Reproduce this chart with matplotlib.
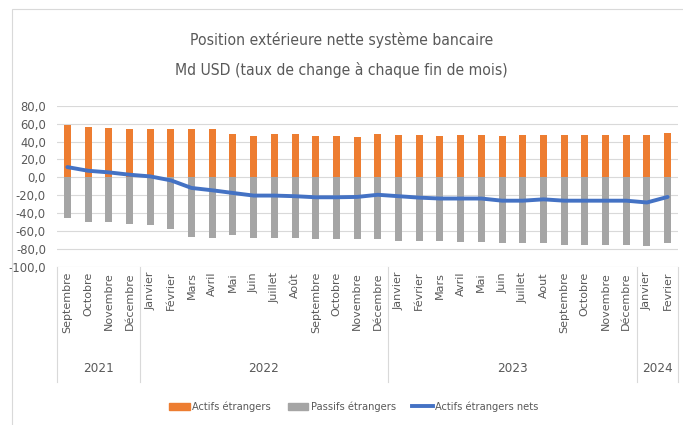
import matplotlib.pyplot as plt
import matplotlib.lines as mlines
import matplotlib.patches as mpatches
import matplotlib.transforms as mtransforms
from matplotlib import font_manager
import numpy as np

months = ['Septembre', 'Octobre', 'Novembre', 'Décembre',
          'Janvier', 'Février', 'Mars', 'Avril', 'Mai', 'Juin', 'Juillet', 'Août',
          'Septembre', 'Octobre', 'Novembre', 'Décembre',
          'Janvier', 'Février', 'Mars', 'Avril', 'Mai', 'Juin', 'Juillet', 'Aout',
          'Septembre', 'Octobre', 'Novembre', 'Décembre',
          'Janvier', 'Fevrier']
years = ['2021', '2022', '2023', '2024']
year_counts = [4, 12, 12, 2]

actifs = [58.5, 56.7, 54.8, 53.7, 53.7, 53.7, 53.7, 53.7, 48.2, 46.3, 48.0, 48.0,
          46.0, 46.0, 45.6, 48.5, 47.4, 47.4, 46.0, 47.4, 47.4, 46.0, 47.4, 47.4,
          47.4, 47.4, 47.4, 47.4, 47.4, 50.0]
passifs = [-45.0, -50.0, -50.0, -52.0, -53.0, -57.4, -66.2, -67.7, -64.8, -67.7, -67.7, -67.7,
           -69.2, -69.2, -69.2, -69.2, -71.0, -71.0, -71.0, -72.0, -72.0, -73.7, -73.7, -73.7,
           -75.0, -75.0, -75.0, -75.0, -76.6, -73.7]
nets = [11.5, 7.4, 5.6, 3.0, 1.1, -3.3, -11.8, -14.4, -17.4, -20.3, -20.3, -21.0,
        -22.2, -22.2, -21.8, -19.4, -21.0, -22.6, -23.6, -23.6, -23.6, -26.0, -26.0, -24.5,
        -26.0, -26.0, -26.0, -26.0, -28.0, -21.8]

orange = '#ED7D31'
grey = '#A5A5A5'
blue = '#4472C4'
txt = '#595959'


# look for a narrow font (the original uses a condensed Calibri look)
def find_narrow():
    for f in font_manager.fontManager.ttflist:
        if f.name == 'Liberation Sans Narrow' and f.style == 'normal' and f.weight in (400, 'normal', 'regular'):
            return f.fname, 1.0
    for f in font_manager.fontManager.ttflist:
        if f.fname.endswith('DejaVuSansCondensed.ttf'):
            return f.fname, 0.88
    return None, 0.86


narrow_file, scale = find_narrow()


def nfont(size):
    if narrow_file:
        return font_manager.FontProperties(fname=narrow_file, size=size * scale)
    return font_manager.FontProperties(family='Liberation Sans', size=size * scale)


W, H = 683, 425
fig = plt.figure(figsize=(W / 100, H / 100), dpi=100)

# frame of the chart area
fig.add_artist(mpatches.Rectangle((12 / W, -0.01), 1, 1 - 9 / H + 0.01, transform=fig.transFigure,
                                  fill=False, edgecolor='#D9D9D9', lw=0.8))

left, right, top, bottom = 57, 678, 105.7, 267
ax = fig.add_axes([left / W, 1 - bottom / H, (right - left) / W, (bottom - top) / H])

x = np.arange(len(months))
ax.bar(x, actifs, width=0.34, color=orange, zorder=2)
ax.bar(x, passifs, width=0.34, color=grey, zorder=2)
ax.plot(x, nets, color=blue, lw=2.8, zorder=3, solid_capstyle='round')

ax.set_xlim(-0.5, len(months) - 0.5)
ax.set_ylim(-100, 80)
ax.set_yticks(np.arange(-100, 81, 20))
ax.set_yticklabels([f'{v:.1f}'.replace('.', ',') for v in np.arange(-100, 81, 20)], color=txt)
for lbl in ax.get_yticklabels():
    lbl.set_fontproperties(nfont(10.5))
ax.tick_params(axis='y', length=0, pad=8)
ax.tick_params(axis='x', length=0, labelbottom=False)
ax.grid(axis='y', color='#D9D9D9', lw=0.8, zorder=0)
for s in ax.spines.values():
    s.set_visible(False)

# category table under the axis
trans = mtransforms.blended_transform_factory(ax.transData, ax.transAxes)
ph = bottom - top
for i, m in enumerate(months):
    ax.text(i, -5 / ph, m, rotation=90, ha='center', va='top', fontsize=8,
            color=txt, transform=trans, family='DejaVu Sans')
start = 0
bounds = [-0.5]
for yr, n in zip(years, year_counts):
    ax.text(start + (n - 1) / 2, -(368 - bottom) / ph, yr, ha='center', va='center',
            color=txt, transform=trans, fontproperties=nfont(11))
    start += n
    bounds.append(start - 0.5)
for b in bounds:
    ax.plot([b, b], [0, -(382 - bottom) / ph], color='#D9D9D9', lw=0.8,
            transform=trans, clip_on=False)

fig.text(0.5, 1 - 40 / H, 'Position extérieure nette système bancaire', ha='center', va='center',
         color=txt, fontproperties=nfont(12.8))
fig.text(0.5, 1 - 70 / H, 'Md USD (taux de change à chaque fin de mois)', ha='center', va='center',
         color=txt, fontproperties=nfont(12.8))

handles = [mpatches.Patch(color=orange, label='Actifs étrangers'),
           mpatches.Patch(color=grey, label='Passifs étrangers'),
           mlines.Line2D([], [], color=blue, lw=2.8, label='Actifs étrangers nets')]
fig.legend(handles=handles, loc='center', bbox_to_anchor=(354 / W, 1 - 407 / H), ncol=3,
           frameon=False, prop=nfont(9), labelcolor=txt,
           handlelength=1.9, handleheight=0.7, handletextpad=0.2, columnspacing=1.5)

fig.savefig('out.png', dpi=100)
